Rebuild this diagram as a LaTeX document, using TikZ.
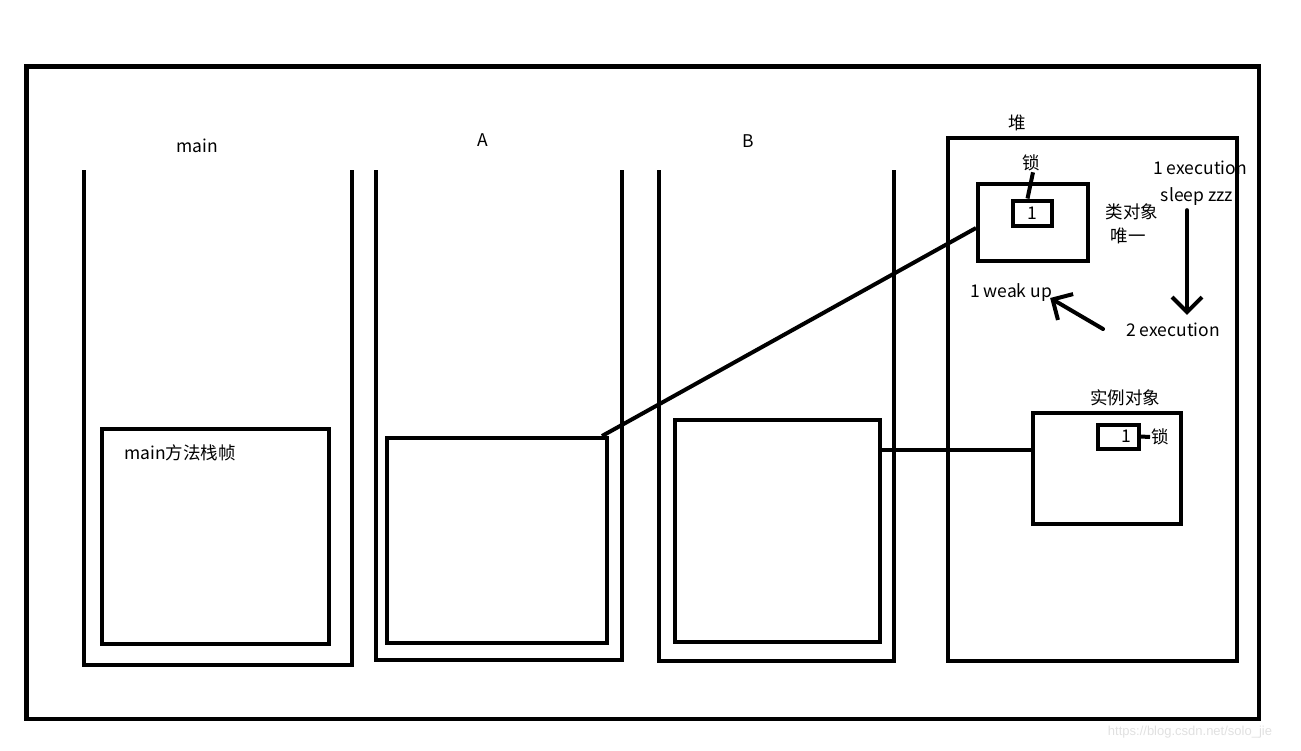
\documentclass[tikz,border=0pt]{standalone}
\usepackage{fontspec}
\setmainfont{Noto Sans CJK SC}
\newfontfamily\markfont{Liberation Sans}
\usetikzlibrary{arrows.meta}

\tikzset{
  wall/.style={line width=4pt},
  box/.style={draw, line width=4pt, rectangle, inner sep=0pt, minimum width=#1},
  lbl/.style={inner sep=1pt, font=\fontsize{17.5}{20}\selectfont},
  arr/.style={line width=4pt, line cap=round, -{Straight Barb[length=15pt, width=30pt, line width=4pt]}}
}

\begin{document}
\begin{tikzpicture}[x=1pt, y=-1pt]
\useasboundingbox (0,0) rectangle (1301,750);
%\draw[step=100,gray,very thin] (0,0) grid (1301,750);
\draw[line width=4.5pt] (26.5,66.5) rectangle (1259,719);
% stacks
\draw[wall] (84,170) -- (84,665) -- (352,665) -- (352,170);
\draw[wall] (376,170) -- (376,660) -- (622,660) -- (622,170);
\draw[wall] (659,170) -- (659,661) -- (894,661) -- (894,170);
\node[lbl] (mainlbl) at (197,146) {main};
\node[lbl] (albl) at (483,140) {A};
\node[lbl] (blbl) at (748,141) {B};
\node[box=227pt, minimum height=215pt] (mainframe) at (215.5,536.5) {};
\node[lbl] (mainframelbl) at (180,453) {main方法栈帧};
\node[box=220pt, minimum height=205pt] (aframe) at (497,540.5) {};
\node[box=205pt, minimum height=222pt] (bframe) at (777.5,531) {};
% heap
\node[box=289pt, minimum height=523pt] (heap) at (1092.5,399.5) {};
\node[lbl] (heaplbl) at (1017,123) {堆};
\node[box=110pt, minimum height=77pt] (classobj) at (1033,222.5) {};
\node[box=39pt, minimum height=25pt, lbl] (classlock) at (1032.5,213) {1};
\node[lbl] (locka) at (1031,163) {锁};
\draw[wall] ([xshift=-5pt]classlock.north) -- ([xshift=2pt]locka.south);
\node[lbl] (classlbl) at (1132,212) {类对象};
\node[lbl] (onlylbl) at (1128,236) {唯一};
\node[lbl] (exec1) at (1200,168) {1 execution};
\node[lbl] (sleep) at (1197,197) {sleep zzz};
\node[lbl] (exec2) at (1173,330) {2 execution};
\node[lbl] (wake) at (1011,293) {1 weak up};
\draw[arr] ([xshift=-10pt, yshift=-3pt]sleep.south) -- ([xshift=14pt, yshift=7pt]exec2.north);
\draw[arr] ([xshift=-22pt, yshift=1pt]exec2.west) -- ([xshift=-3pt, yshift=-5pt]wake.east);
\node[box=148pt, minimum height=111pt] (inst) at (1107,468.5) {};
\node[lbl] (instlbl) at (1125,398) {实例对象};
\node[box=41pt, minimum height=24pt, lbl] (instlock) at (1118,436.5) {\hspace*{16pt}1};
\node[lbl] (lockb) at (1160,437) {锁};
\draw[wall] (instlock.east) -- (lockb.west);
% references
\draw[wall] ([xshift=-7pt]aframe.north east) -- ([yshift=-5.5pt]classobj.west);
\coordinate (instport) at ([yshift=18.5pt]inst.west);
\draw[wall] (instport) -- (instport -| bframe.east);
\node[font=\markfont\fontsize{13}{15}\selectfont, text=black!12] (mark) at (1190,732) {https://blog.csdn.net/solo\_jie};
\end{tikzpicture}
\end{document}
